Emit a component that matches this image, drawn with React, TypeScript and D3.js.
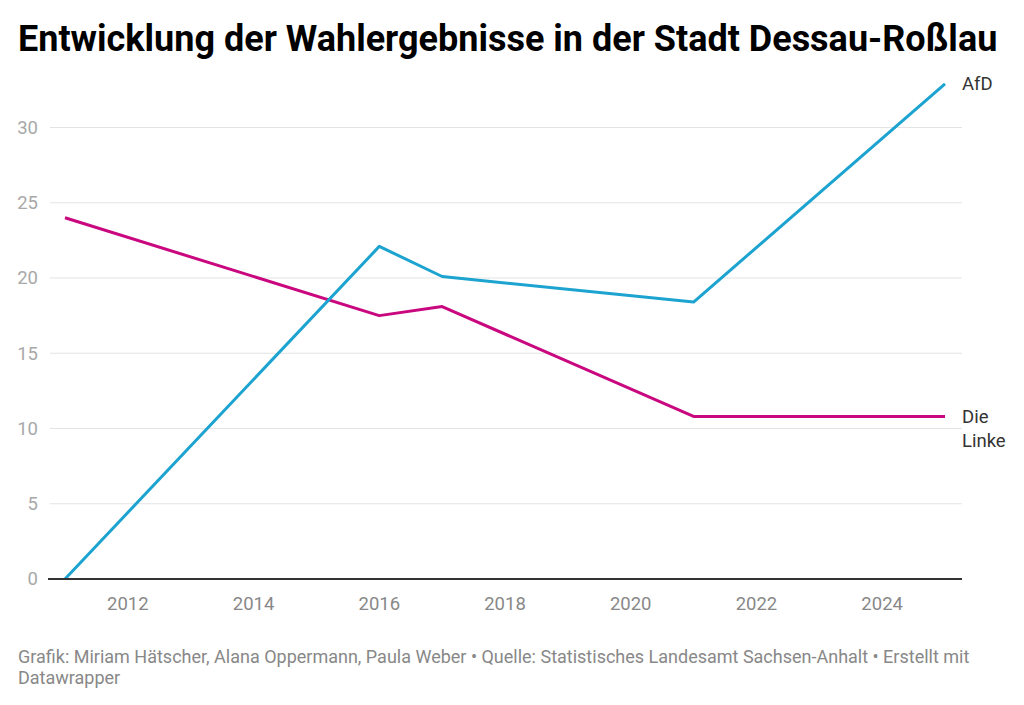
import { useEffect, useRef } from 'react';
import * as d3 from 'd3';

// Wahljahre und Ergebnisse in Prozent
const years = [2011, 2016, 2017, 2021, 2025];
const afd = [0, 22.1, 20.1, 18.4, 32.9];
const linke = [24.0, 17.5, 18.1, 10.8, 10.8];
const yTicks = [0, 5, 10, 15, 20, 25, 30];
const xTicks = [2012, 2014, 2016, 2018, 2020, 2022, 2024];

const W = 1024;
const H = 705;

const FONT = 'Roboto, "Noto Sans", sans-serif';

export default function App() {
    const svgRef = useRef<SVGSVGElement>(null);

    useEffect(() => {
        if (!svgRef.current) return;
        const svg = d3.select(svgRef.current);
        svg.selectAll('*').remove();

        const x = d3.scaleLinear().domain([2011, 2025]).range([65, 945]);
        const y = d3.scaleLinear().domain([0, 30]).range([579, 127.5]);
        const gridLeft = 50;
        const gridRight = 962;

        // Titel
        svg.append('text')
            .attr('x', 18)
            .attr('y', 51)
            .attr('font-family', FONT)
            .attr('font-weight', 700)
            .attr('font-size', 36)
            .attr('fill', '#000')
            .text('Entwicklung der Wahlergebnisse in der Stadt Dessau-Roßlau');

        // Gitterlinien + y-Beschriftung
        const g = svg.append('g');
        yTicks.filter((t) => t > 0).forEach((t) => {
            g.append('line')
                .attr('x1', gridLeft)
                .attr('x2', gridRight)
                .attr('y1', y(t))
                .attr('y2', y(t))
                .attr('stroke', '#e3e3e3')
                .attr('stroke-width', 1);
        });
        yTicks.forEach((t) => {
            g.append('text')
                .attr('x', 38)
                .attr('y', y(t))
                .attr('dy', '0.35em')
                .attr('text-anchor', 'end')
                .attr('font-family', FONT)
                .attr('font-size', 18.5)
                .attr('fill', '#a8a8a8')
                .text(t);
        });

        // x-Beschriftung
        xTicks.forEach((t) => {
            g.append('text')
                .attr('x', x(t))
                .attr('y', 610)
                .attr('text-anchor', 'middle')
                .attr('font-family', FONT)
                .attr('font-size', 18.5)
                .attr('fill', '#888')
                .text(t);
        });

        // Linien
        const line = d3.line<number>()
            .x((_, i) => x(years[i]))
            .y((d) => y(d));

        const series = [
            { name: ['Die', 'Linke'], values: linke, color: '#c9077f' },
            { name: ['AfD'], values: afd, color: '#1ca3d0' },
        ];

        series.forEach((s) => {
            g.append('path')
                .attr('d', line(s.values))
                .attr('fill', 'none')
                .attr('stroke', s.color)
                .attr('stroke-width', 3)
                .attr('stroke-linejoin', 'round');

            const last = s.values[s.values.length - 1];
            const label = g.append('text')
                .attr('x', x(years[years.length - 1]) + 17)
                .attr('y', y(last))
                .attr('font-family', FONT)
                .attr('font-size', 18.5)
                .attr('fill', '#333');
            s.name.forEach((n, i) => {
                label.append('tspan')
                    .attr('x', x(years[years.length - 1]) + 17)
                    .attr('dy', i === 0 ? '0.35em' : '1.3em')
                    .text(n);
            });
        });

        // Grundlinie
        g.append('line')
            .attr('x1', gridLeft - 2)
            .attr('x2', gridRight)
            .attr('y1', y(0))
            .attr('y2', y(0))
            .attr('stroke', '#333')
            .attr('stroke-width', 2);

        // Fußzeile
        const foot = svg.append('text')
            .attr('font-family', FONT)
            .attr('font-size', 18)
            .attr('fill', '#888');
        foot.append('tspan')
            .attr('x', 18)
            .attr('y', 663)
            .text('Grafik: Miriam Hätscher, Alana Oppermann, Paula Weber • Quelle: Statistisches Landesamt Sachsen-Anhalt • Erstellt mit');
        foot.append('tspan')
            .attr('x', 18)
            .attr('y', 684)
            .text('Datawrapper');
    }, []);

    return (
        <svg
            ref={svgRef}
            width={W}
            height={H}
            style={{ position: 'absolute', left: 0, top: 0, background: '#fff' }}
        />
    );
}
